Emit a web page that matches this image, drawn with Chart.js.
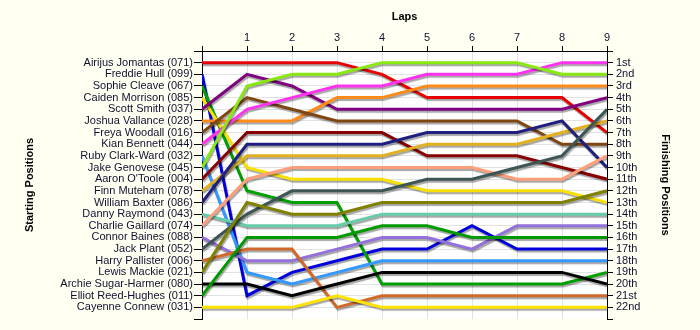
<!DOCTYPE html>
<html>
<head>
<meta charset="utf-8">
<script src="https://cdn.jsdelivr.net/npm/chart.js@4/dist/chart.umd.min.js"></script>
<style>
  html, body { margin: 0; padding: 0; background: #fffff2; }
  #wrap { width: 700px; height: 330px; }
</style>
</head>
<body>
<div id="wrap"><canvas id="c" width="700" height="330"></canvas></div>
<script>
// Lap numbers (0 = grid / starting position)
const laps = [0, 1, 2, 3, 4, 5, 6, 7, 8, 9];

// Drivers in starting order
const drivers = [
  'Airijus Jomantas (071)', 'Freddie Hull (099)', 'Sophie Cleave (067)',
  'Caiden Morrison (085)', 'Scott Smith (037)', 'Joshua Vallance (028)',
  'Freya Woodall (016)', 'Kian Bennett (044)', 'Ruby Clark-Ward (032)',
  'Jake Genovese (045)', "Aaron O'Toole (004)", 'Finn Muteham (078)',
  'William Baxter (086)', 'Danny Raymond (043)', 'Charlie Gaillard (074)',
  'Connor Baines (088)', 'Jack Plant (052)', 'Harry Pallister (006)',
  'Lewis Mackie (021)', 'Archie Sugar-Harmer (080)', 'Elliot Reed-Hughes (011)',
  'Cayenne Connew (031)'
];

// Race position of each driver at the end of every lap
const posAirijus  = [1, 1, 1, 1, 2, 4, 4, 4, 4, 7];
const posFreddie  = [2, 21, 19, 18, 17, 17, 15, 17, 17, 17];
const posSophie   = [3, 12, 13, 13, 20, 20, 20, 20, 20, 19];
const posCaiden   = [4, 10, 11, 11, 11, 12, 12, 12, 12, 13];
const posScott    = [5, 2, 3, 5, 5, 5, 5, 5, 5, 4];
const posJoshua   = [6, 6, 6, 4, 4, 3, 3, 3, 3, 3];
const posFreya    = [7, 4, 5, 6, 6, 6, 6, 6, 8, 8];
const posKian     = [8, 5, 4, 3, 3, 2, 2, 2, 1, 1];
const posRuby     = [9, 19, 20, 19, 18, 18, 18, 18, 18, 18];
const posJake     = [10, 3, 2, 2, 1, 1, 1, 1, 2, 2];
const posAaron    = [11, 7, 7, 7, 7, 9, 9, 9, 10, 11];
const posFinn     = [12, 9, 9, 9, 9, 8, 8, 8, 7, 6];
const posWilliam  = [13, 8, 8, 8, 8, 7, 7, 7, 6, 10];
const posDanny    = [14, 15, 15, 15, 14, 14, 14, 14, 14, 14];
const posCharlie  = [15, 11, 10, 10, 10, 10, 10, 11, 11, 9];
const posConnor   = [16, 18, 18, 17, 16, 16, 17, 15, 15, 15];
const posJack     = [17, 14, 12, 12, 12, 11, 11, 10, 9, 5];
const posHarry    = [18, 17, 17, 22, 21, 21, 21, 21, 21, 21];
const posLewis    = [19, 13, 14, 14, 13, 13, 13, 13, 13, 12];
const posArchie   = [20, 20, 21, 20, 19, 19, 19, 19, 19, 20];
const posElliot   = [21, 16, 16, 16, 15, 15, 16, 16, 16, 16];
const posCayenne  = [22, 22, 22, 21, 22, 22, 22, 22, 22, 22];

const positions = [
  posAirijus, posFreddie, posSophie, posCaiden, posScott, posJoshua, posFreya,
  posKian, posRuby, posJake, posAaron, posFinn, posWilliam, posDanny, posCharlie,
  posConnor, posJack, posHarry, posLewis, posArchie, posElliot, posCayenne
];

// Finishing position labels
const finishLabels = [
  '1st', '2nd', '3rd', '4th', '5th', '6th', '7th', '8th', '9th', '10th', '11th',
  '12th', '13th', '14th', '15th', '16th', '17th', '18th', '19th', '20th', '21st', '22nd'
];

// Line colour per driver
const lineColors = [
  '#e80000', '#0000dd', '#00a000', '#f8e000', '#800080', '#ff8c1a', '#7f4512',
  '#ff33ee', '#3399ff', '#88e810', '#880000', '#e3b020', '#1f1f7f', '#66ccaa',
  '#ffa07a', '#9370db', '#3d5555', '#d0692a', '#808000', '#000000', '#009a00',
  '#ffe400'
];

const textColor = '#101030';
const gridColor = '#e2e2e2';
const font = { family: 'Arial, "Liberation Sans", sans-serif', size: 11 };
const titleFont = { family: 'Arial, "Liberation Sans", sans-serif', size: 11, weight: 'bold' };

const datasets = positions.map((pos, i) => ({
  label: drivers[i],
  data: laps.map((lap, k) => ({ x: lap, y: pos[k] })),
  borderColor: lineColors[i],
  backgroundColor: lineColors[i],
  borderWidth: 3,
  pointRadius: 0,
  tension: 0,
  fill: false,
  yAxisID: 'y',
  order: -i
}));

// Soft drop shadow under each line
const lineShadow = {
  id: 'lineShadow',
  beforeDatasetDraw(chart) {
    const ctx = chart.ctx;
    ctx.save();
    ctx.shadowColor = 'rgba(0,0,0,0.35)';
    ctx.shadowOffsetX = 1;
    ctx.shadowOffsetY = 2;
    ctx.shadowBlur = 1;
  },
  afterDatasetDraw(chart) {
    chart.ctx.restore();
  }
};

// White plot area over the cream page
const plotBackground = {
  id: 'plotBackground',
  beforeDraw(chart) {
    const { ctx, chartArea: a } = chart;
    ctx.save();
    ctx.fillStyle = '#fffff2';
    ctx.fillRect(0, 0, chart.width, chart.height);
    ctx.fillStyle = '#ffffff';
    ctx.fillRect(a.left, a.top, a.right - a.left, a.bottom - a.top);
    ctx.restore();
  }
};

new Chart(document.getElementById('c'), {
  type: 'line',
  data: { datasets },
  plugins: [plotBackground, lineShadow],
  options: {
    responsive: false,
    animation: false,
    layout: { padding: { top: 0, right: 0, bottom: 11, left: 0 } },
    plugins: { legend: { display: false }, tooltip: { enabled: false } },
    scales: {
      x: {
        type: 'linear',
        position: 'top',
        min: 0,
        max: 9,
        afterFit(s) { s.height = 51; },
        ticks: {
          stepSize: 1,
          autoSkip: false,
          maxRotation: 0,
          padding: 1,
          color: textColor,
          font,
          callback: v => (v === 0 ? '' : String(v))
        },
        grid: {
          color: c => (c.tick && (c.tick.value === 0 || c.tick.value === 9)) ? 'rgba(0,0,0,0)' : gridColor,
          tickColor: '#000',
          tickLength: 5
        },
        border: { color: '#000', width: 1 },
        title: { display: true, text: 'Laps', color: '#000', font: titleFont, padding: { top: 10, bottom: 0 } }
      },
      y: {
        type: 'linear',
        position: 'left',
        reverse: true,
        min: 0,
        max: 23,
        afterFit(s) { s.width = 202; },
        ticks: {
          stepSize: 1,
          autoSkip: false,
          padding: 1,
          color: textColor,
          font,
          callback: v => (v >= 1 && v <= 22 ? drivers[v - 1] : '')
        },
        grid: {
          color: c => (c.tick && (c.tick.value === 0 || c.tick.value === 23)) ? 'rgba(0,0,0,0)' : gridColor,
          tickColor: '#000',
          tickLength: 8
        },
        border: { color: '#000', width: 1 },
        title: { display: true, text: 'Starting Positions', color: '#000', font: titleFont, padding: { top: 23, bottom: 0 } }
      },
      y2: {
        type: 'linear',
        position: 'right',
        reverse: true,
        min: 0,
        max: 23,
        afterFit(s) { s.width = 93; },
        ticks: {
          stepSize: 1,
          autoSkip: false,
          padding: 3,
          color: textColor,
          font,
          callback: v => (v >= 1 && v <= 22 ? finishLabels[v - 1] : '')
        },
        grid: { drawOnChartArea: false, color: '#000', tickColor: '#000', tickLength: 6 },
        border: { color: '#000', width: 1 },
        title: { display: true, text: 'Finishing Positions', color: '#000', font: titleFont, padding: { top: 28, bottom: 0 } }
      }
    }
  }
});
</script>
</body>
</html>
